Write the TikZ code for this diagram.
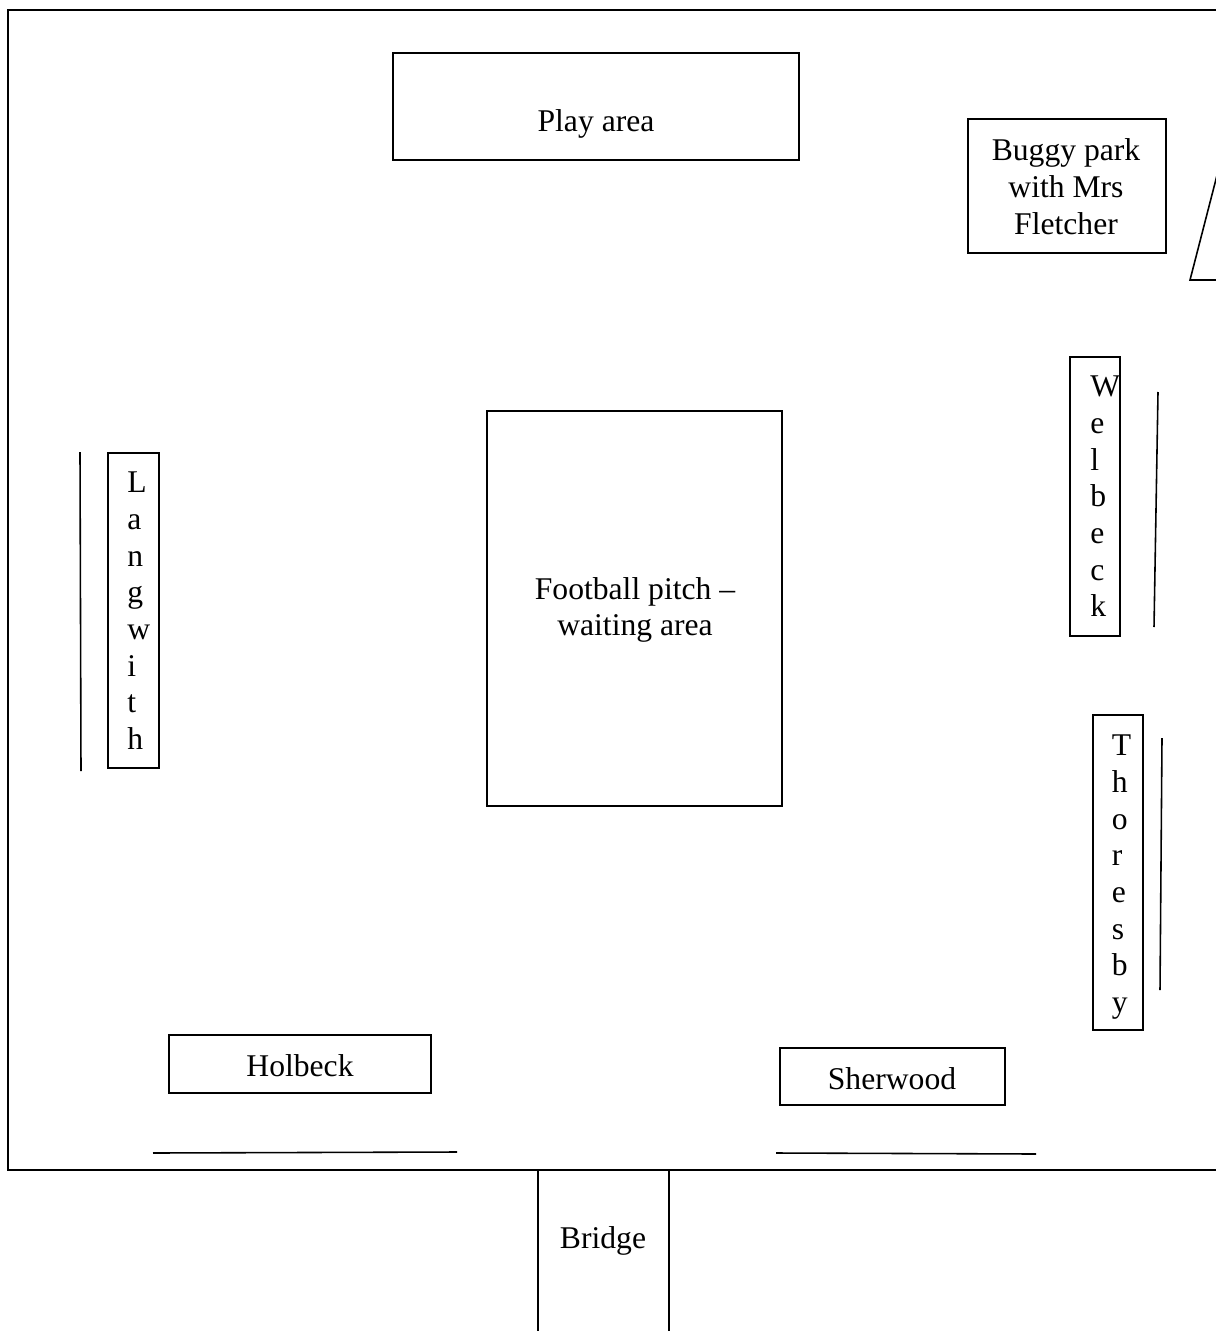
\documentclass[tikz,border=0pt]{standalone}
\usepackage{fontspec}
\setmainfont{Liberation Serif}
\usepackage{tikz}
\usetikzlibrary{positioning}
\tikzset{
  plan/.style={line width=0.9pt},
  lbl/.style={inner sep=0pt,font=\fontsize{18pt}{20.9pt}\selectfont,align=center},
  vlbl/.style={inner sep=0pt,font=\fontsize{18pt}{20.9pt}\selectfont,align=left,anchor=north west}
}

\begin{document}
\begin{tikzpicture}[x=0.02cm,y=-0.02cm]
  \useasboundingbox (0,0) rectangle (1216,1331);
  \clip (0,0) rectangle (1216,1331);
  % playground outline
  \draw[plan] (1260,10) -- (8,10) -- (8,1170) -- (1260,1170);
  % boxes
  \draw[plan] (393,53) rectangle (799,160);
  \draw[plan] (968,119) rectangle (1166,253);
  \draw[plan] (487,411) rectangle (782,806);
  \draw[plan] (108,453) rectangle (159,768);
  \draw[plan] (1070,357) rectangle (1120,636);
  \draw[plan] (1093,715) rectangle (1143,1030);
  \draw[plan] (169,1035) rectangle (431,1093);
  \draw[plan] (780,1048) rectangle (1005,1105);
  \draw[plan] (538,1170) rectangle (669,1360);
  % triangle at the gate
  \draw[plan] (1240,86) -- (1190,280) -- (1240,280);
  % lines
  \draw[plan] (80,452) -- (81,771);
  \draw[plan] (1158,392) -- (1154,627);
  \draw[plan] (1162,738) -- (1160,990);
  \draw[plan] (153,1153) -- (457,1152);
  \draw[plan] (776,1153) -- (1036,1154);
  % labels
  \node[lbl] (play) at (596,124) {Play area};
  \node[lbl] (buggy) at (1066,186.5) {Buggy park\\with Mrs\\Fletcher};
  \node[lbl] (pitch) at (635,610) {Football pitch --\\waiting area};
  \node[vlbl] (langwith) at (127,471.5) {L\\a\\n\\g\\w\\i\\t\\h};
  \node[vlbl] (welbeck) at (1090,375.5) {W\\e\\l\\b\\e\\c\\k};
  \node[vlbl] (thoresby) at (1111.5,734.5) {T\\h\\o\\r\\e\\s\\b\\y};
  \node[lbl] (holbeck) at (300,1065.5) {Holbeck};
  \node[lbl] (sherwood) at (892,1078.5) {Sherwood};
  \node[lbl] (bridge) at (603,1241) {Bridge};
\end{tikzpicture}
\end{document}
